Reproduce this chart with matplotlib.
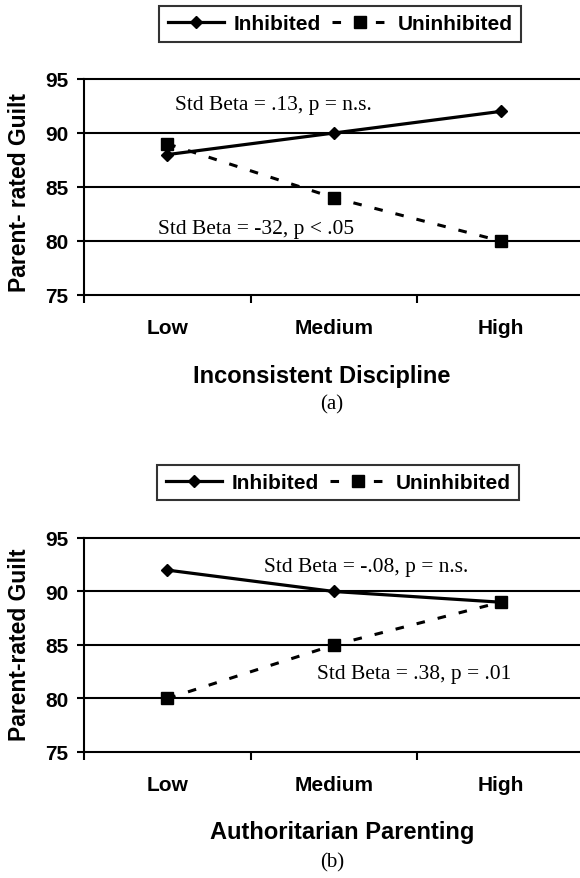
import matplotlib
matplotlib.use("Agg")
import matplotlib.pyplot as plt

categories = ["Low", "Medium", "High"]
yticks = [75, 80, 85, 90, 95]

inhibited_a = [88, 90, 92]
uninhibited_a = [89, 84, 80]
inhibited_b = [92, 90, 89]
uninhibited_b = [80, 85, 89]

series_labels = ["Inhibited", "Uninhibited"]
xlabels = ["Inconsistent Discipline", "Authoritarian Parenting"]
ylabels = ["Parent- rated Guilt", "Parent-rated Guilt"]
panel_tags = ["(a)", "(b)"]
annots_a = [("Std Beta = .13, p = n.s.", 0.546, 92.6), ("Std Beta = -32, p < .05", 0.444, 81.2)]
annots_b = [("Std Beta = -.08, p = n.s.", 1.08, 92.3), ("Std Beta = .38, p = .01", 1.40, 82.3)]

W, H = 580, 879
fig = plt.figure(figsize=(W / 100, H / 100), dpi=100)
SANS = "Liberation Sans"
SERIF = "Liberation Serif"


def fx(px):
    return px / W


def fy(py):
    return 1 - py / H


def panel(top_px, bot_px, inh, uninh, annots, xlabel, ylabel, tag,
          leg_cx, leg_cy, xl_cx, xl_cy, tag_cy, yl_cy):
    ax = fig.add_axes([fx(84), fy(bot_px), fx(500), (bot_px - top_px) / H])
    ax.set_xlim(0, 3)
    ax.set_ylim(75, 95)
    for s in ["top", "right", "bottom"]:
        ax.spines[s].set_visible(False)
    ax.spines["left"].set_linewidth(1.5)
    for y in yticks:
        ax.axhline(y, color="black", lw=1.5, zorder=1, clip_on=False)
    ax.set_yticks(yticks)
    ax.set_yticklabels([str(v) for v in yticks], fontsize=15, fontweight="bold", family=SANS)
    ax.tick_params(axis="y", length=5, width=1.5, pad=6)
    ax.set_xticks([0, 1, 2])
    ax.set_xticklabels([])
    ax.tick_params(axis="x", length=6, width=1.5)
    xs = [0.5, 1.5, 2.5]
    for x, lab in zip(xs, categories):
        ax.text(x, -0.15, lab, transform=ax.get_xaxis_transform(), ha="center", va="center",
                fontsize=15, fontweight="bold", family=SANS)
    l1, = ax.plot(xs, inh, color="black", lw=2.3, marker="D", markersize=6.5, zorder=3,
                  label=series_labels[0])
    l2, = ax.plot(xs, uninh, color="black", lw=2.2, linestyle=(0, (2.8, 4.3)), marker="s",
                  markersize=8, zorder=3, label=series_labels[1])
    for txt, x, y in annots:
        ax.text(x, y, txt, ha="left", va="center", fontsize=15.5, family=SERIF)
    leg = fig.legend(handles=[l1, l2], loc="center", bbox_to_anchor=(fx(leg_cx), fy(leg_cy)),
                     ncol=2, frameon=True, fancybox=False, handlelength=2.7, handletextpad=0.45,
                     columnspacing=0.55, borderpad=0.4, borderaxespad=0,
                     prop={"family": SANS, "weight": "bold", "size": 15})
    leg.get_frame().set_edgecolor("black")
    leg.get_frame().set_linewidth(1.5)
    fig.text(fx(xl_cx), fy(xl_cy), xlabel, ha="center", va="center", fontsize=17,
             fontweight="bold", family=SANS)
    fig.text(fx(332), fy(tag_cy), tag, ha="center", va="center", fontsize=15, family=SERIF)
    fig.text(fx(20), fy(yl_cy), ylabel, ha="center", va="center", rotation=90, fontsize=16.5,
             fontweight="bold", family=SANS)
    return ax


panel(80, 296, inhibited_a, uninhibited_a, annots_a, xlabels[0], ylabels[0], panel_tags[0],
      340, 25, 322, 377, 405, 193)
panel(539, 753, inhibited_b, uninhibited_b, annots_b, xlabels[1], ylabels[1], panel_tags[1],
      338, 483.5, 342, 833, 863, 645)

fig.savefig("out.png", dpi=100, facecolor="white")
